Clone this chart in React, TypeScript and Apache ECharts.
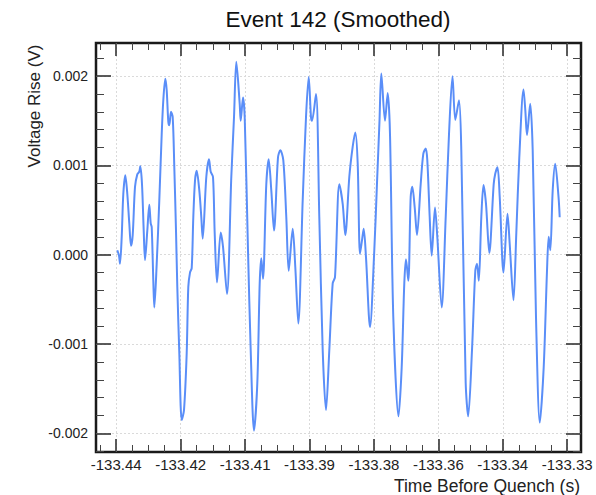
import React, { useEffect, useRef } from 'react';
import * as echarts from 'echarts';

// Time reference (first major tick), seconds before quench
const T0 = -133.4375;
// Sample times, milliseconds after T0
const timeOffsetMs = [
  0.267, 0.679, 0.922, 1.334, 1.722, 2.207, 2.692, 3.177, 3.589, 4.001,
  4.559, 5.117, 5.602, 5.844, 6.257, 6.669, 6.984, 7.542, 8.027, 8.367,
  8.609, 8.997, 9.240, 9.822, 10.452, 11.034, 11.422, 11.907, 12.247, 12.635,
  12.877, 13.290, 13.702, 14.090, 14.502, 14.817, 15.302, 15.884, 16.442, 17.097,
  17.485, 17.897, 18.310, 18.698, 19.110, 19.522, 20.153, 20.638, 20.977, 21.850,
  22.505, 22.917, 23.475, 23.887, 24.445, 25.342, 25.900, 26.870, 27.913, 28.568,
  29.126, 29.950, 30.193, 30.751, 31.163, 31.963, 32.618, 33.418, 34.218, 34.800,
  35.188, 35.600, 36.400, 36.982, 37.613, 38.268, 39.238, 39.796, 40.523, 41.251,
  41.833, 42.803, 43.434, 44.161, 45.228, 46.029, 46.683, 47.241, 47.483, 48.453,
  49.254, 50.078, 50.879, 51.679, 52.503, 53.061, 54.104, 54.928, 55.559, 56.529,
  57.353, 57.984, 58.566, 59.124, 59.609, 60.021, 60.579, 61.549, 62.592, 63.246,
  63.853, 64.289, 65.186, 65.841, 66.399, 67.199, 68.460, 69.236, 69.867, 70.279,
  70.837, 71.419, 71.807, 72.389, 72.947, 73.844, 74.475, 75.057, 75.445, 76.027,
  76.512, 77.312, 77.870, 78.937, 79.907, 80.708, 81.557, 82.236, 83.133, 83.691,
  84.758, 85.364, 86.285, 87.086, 87.498, 87.935, 88.541, 89.075, 89.681, 90.481,
  91.548, 91.936, 92.470, 93.003, 93.925, 94.895, 95.429, 96.350, 97.029, 97.757,
  98.775, 99.212, 99.624, 100.400, 101.006, 101.807, 102.728, 103.674, 104.474, 104.886,
  105.274, 105.856, 106.462, 107.263, 107.554,
];
// Voltage rise, millivolts
const voltageMv = [
  0.05, -0.01, -0.10, 0.20, 0.68, 0.89, 0.68, 0.35, 0.10, 0.22,
  0.76, 0.90, 0.93, 0.99, 0.79, 0.27, -0.06, 0.27, 0.56, 0.35,
  0.31, -0.29, -0.59, -0.10, 0.61, 1.35, 1.73, 1.97, 1.84, 1.49,
  1.45, 1.60, 1.54, 0.98, 0.27, -0.36, -1.10, -1.85, -1.74, -1.10,
  -0.36, -0.20, -0.15, 0.42, 0.83, 0.94, 0.72, 0.42, 0.18, 0.87,
  1.07, 0.93, 0.87, 0.24, -0.31, 0.25, 0.09, -0.44, 0.87, 1.54,
  2.16, 1.69, 1.50, 1.76, 1.54, 0.05, -1.07, -1.97, -1.44, -0.32,
  -0.04, -0.27, 0.79, 1.07, 0.72, 0.27, 1.09, 1.17, 1.06, 0.42,
  -0.18, 0.29, -0.14, -0.77, 0.61, 1.54, 1.99, 1.54, 1.50, 1.80,
  0.42, -1.07, -1.74, -1.07, -0.32, -0.25, 0.79, 0.57, 0.22, 0.87,
  1.21, 1.37, 1.02, 0.01, 0.16, 0.29, -0.03, -0.81, 0.05, 0.80,
  1.50, 2.03, 1.50, 1.81, 1.35, -0.70, -1.81, -1.26, -0.32, -0.05,
  -0.29, 0.65, 0.76, 0.53, 0.22, 0.79, 1.13, 1.19, 1.06, 0.42,
  -0.01, 0.53, 0.20, -0.59, 0.42, 1.35, 2.00, 1.51, 1.73, 1.17,
  -1.44, -1.81, -1.07, -0.18, -0.10, -0.29, 0.42, 0.78, 0.57, 0.02,
  0.79, 0.91, 0.98, 0.65, -0.20, 0.46, 0.12, -0.51, 0.24, 1.09,
  1.85, 1.62, 1.34, 1.69, 1.17, -0.70, -1.88, -1.26, -0.18, 0.20,
  0.05, 0.72, 1.02, 0.65, 0.42,
];

const xTickValues = [-133.4375, -133.421875, -133.40625, -133.390625, -133.375, -133.359375, -133.34375, -133.328125];
const xTickLabels = ['-133.44', '-133.42', '-133.41', '-133.39', '-133.38', '-133.36', '-133.34', '-133.33'];
const yTickValues = [-0.002, -0.001, 0, 0.001, 0.002];
const yTickLabels = ['-0.002', '-0.001', '0.000', '0.001', '0.002'];

const X_MIN = -133.4424;
const X_MAX = -133.32478;
const Y_MIN = -0.002209;
const Y_MAX = 0.002371;

const FONT = "'Liberation Sans', Arial, Helvetica, sans-serif";

function minorTicks(majors: number[], step: number, lo: number, hi: number, sub: number): number[] {
  const out: number[] = [];
  const start = majors[0] - step * 2;
  for (let i = 0; i < (majors.length + 3) * sub; i++) {
    if (i % sub === 0) continue;
    const v = start + (i * step) / sub;
    if (v > lo && v < hi) out.push(v);
  }
  return out;
}

export default function App() {
  const ref = useRef<HTMLDivElement>(null);
  useEffect(() => {
    if (!ref.current) return;
    const chart = echarts.init(ref.current, undefined, { renderer: 'svg' });
    const data = timeOffsetMs.map((ms, i) => [T0 + ms / 1000, voltageMv[i] / 1000]);
    const xMinor = minorTicks(xTickValues, 0.015625, X_MIN, X_MAX, 4);
    const yMinor = minorTicks(yTickValues, 0.001, Y_MIN, Y_MAX, 5);
    const lookup = (vals: number[], labels: string[]) => (v: number) => {
      for (let i = 0; i < vals.length; i++) if (Math.abs(vals[i] - v) < 1e-7) return labels[i];
      return '';
    };
    const majorTickStyle = { color: '#333', width: 1.6 };
    const minorTickStyle = { color: '#444', width: 1 };
    const gridLine = { show: true, lineStyle: { color: '#dadada', type: [2, 2] as any, width: 1 } };
    const noLine = { show: false, onZero: false };
    const baseX = { type: 'value', min: X_MIN, max: X_MAX, axisLine: noLine, splitLine: { show: false }, axisLabel: { show: false } };
    const baseY = { type: 'value', min: Y_MIN, max: Y_MAX, axisLine: noLine, splitLine: { show: false }, axisLabel: { show: false } };
    const option: any = {
      animation: false,
      backgroundColor: '#ffffff',
      grid: {
        left: 96, right: 15, top: 43, bottom: 43,
        show: true, borderColor: '#1a1a1a', borderWidth: 2.5, backgroundColor: 'transparent',
        containLabel: false, outerBoundsMode: 'none',
      },
      xAxis: [
        {
          ...baseX, position: 'bottom',
          axisTick: { show: true, inside: true, length: 13, customValues: xTickValues, lineStyle: majorTickStyle },
          axisLabel: {
            show: true, customValues: xTickValues, formatter: lookup(xTickValues, xTickLabels),
            fontSize: 15, color: '#222', fontFamily: FONT, margin: 5,
          },
          splitLine: gridLine,
        },
        { ...baseX, position: 'bottom', axisTick: { show: true, inside: true, length: 7, customValues: xMinor, lineStyle: minorTickStyle } },
        { ...baseX, position: 'top', axisTick: { show: true, inside: true, length: 13, customValues: xTickValues, lineStyle: majorTickStyle } },
        { ...baseX, position: 'top', axisTick: { show: true, inside: true, length: 7, customValues: xMinor, lineStyle: minorTickStyle } },
      ],
      yAxis: [
        {
          ...baseY, position: 'left',
          axisTick: { show: true, inside: true, length: 15, customValues: yTickValues, lineStyle: majorTickStyle },
          axisLabel: {
            show: true, customValues: yTickValues, formatter: lookup(yTickValues, yTickLabels),
            fontSize: 14, color: '#222', fontFamily: FONT, margin: 8,
          },
          splitLine: gridLine,
        },
        { ...baseY, position: 'left', axisTick: { show: true, inside: true, length: 8, customValues: yMinor, lineStyle: minorTickStyle } },
        { ...baseY, position: 'right', axisTick: { show: true, inside: true, length: 15, customValues: yTickValues, lineStyle: majorTickStyle } },
        { ...baseY, position: 'right', axisTick: { show: true, inside: true, length: 8, customValues: yMinor, lineStyle: minorTickStyle } },
      ],
      graphic: [
        {
          type: 'text', x: 338, y: 19,
          style: { text: 'Event 142 (Smoothed)', fill: '#111', fontSize: 22.5, fontFamily: FONT, align: 'center', verticalAlign: 'middle', textAlign: 'center', textVerticalAlign: 'middle' },
        },
        {
          type: 'text', x: 34, y: 106, rotation: Math.PI / 2,
          style: { text: 'Voltage Rise (V)', fill: '#222', fontSize: 17, fontFamily: FONT, align: 'center', verticalAlign: 'middle', textAlign: 'center', textVerticalAlign: 'middle' },
        },
        {
          type: 'text', x: 580, y: 486,
          style: { text: 'Time Before Quench (s)', fill: '#222', fontSize: 17.5, fontFamily: FONT, align: 'right', verticalAlign: 'middle', textAlign: 'right', textVerticalAlign: 'middle' },
        },
      ],
      series: [
        {
          type: 'line', xAxisIndex: 0, yAxisIndex: 0, data,
          showSymbol: false, symbol: 'none', smooth: 0.3,
          lineStyle: { color: '#5a8ef8', width: 2 },
          z: 5,
        },
      ],
    };
    chart.setOption(option);
    return () => chart.dispose();
  }, []);
  return <div ref={ref} style={{ position: 'fixed', left: 0, top: 0, width: 596, height: 495 }} />;
}
